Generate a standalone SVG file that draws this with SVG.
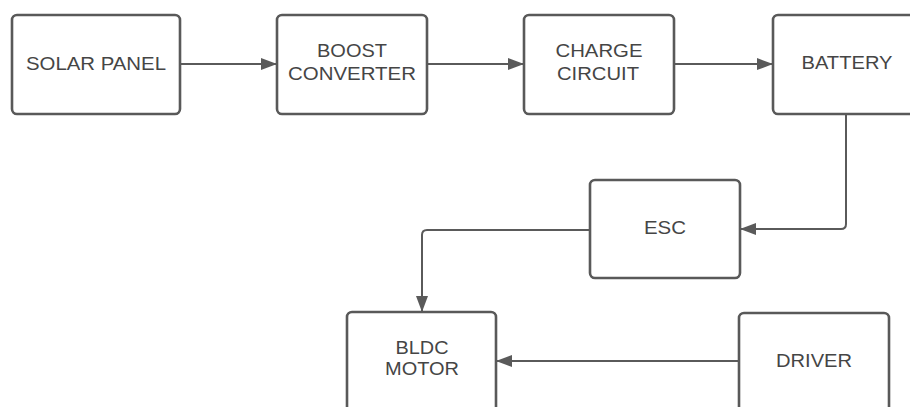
<svg xmlns="http://www.w3.org/2000/svg" width="910" height="407" viewBox="0 0 910 407">
<defs>
<style>
.box{fill:#fff;stroke:#595959;stroke-width:2.6}
.lbl{font-family:"Liberation Sans",Arial,sans-serif;font-size:18px;fill:#454545;text-anchor:middle}
.con{fill:none;stroke:#5a5a5a;stroke-width:2}
</style>
<marker id="ah" viewBox="0 0 16 12" refX="16" refY="6" markerWidth="16" markerHeight="12" markerUnits="userSpaceOnUse" orient="auto">
<path d="M0,0 L16,6 L0,12 Z" fill="#5a5a5a"/>
</marker>
</defs>
<rect width="910" height="407" fill="#fff"/>
<g id="connectors">
<path class="con" d="M180,64 H277" marker-end="url(#ah)"/>
<path class="con" d="M427,64 H524" marker-end="url(#ah)"/>
<path class="con" d="M674,64 H773" marker-end="url(#ah)"/>
<path class="con" d="M846,114 V224 Q846,229 841,229 H740" marker-end="url(#ah)"/>
<path class="con" d="M590,230 H427 Q422,230 422,235 V312" marker-end="url(#ah)"/>
<path class="con" d="M739,361 H496" marker-end="url(#ah)"/>
</g>
<g id="solar-panel">
<rect class="box" x="12" y="15" width="168" height="99" rx="5"/>
<text class="lbl" x="96" y="70" textLength="140" lengthAdjust="spacingAndGlyphs">SOLAR PANEL</text>
</g>
<g id="boost-converter">
<rect class="box" x="277" y="15" width="150" height="99" rx="5"/>
<text class="lbl" x="352" y="57" textLength="70" lengthAdjust="spacingAndGlyphs">BOOST</text>
<text class="lbl" x="352" y="80" textLength="128" lengthAdjust="spacingAndGlyphs">CONVERTER</text>
</g>
<g id="charge-circuit">
<rect class="box" x="524" y="15" width="150" height="99" rx="5"/>
<text class="lbl" x="599" y="57" textLength="87" lengthAdjust="spacingAndGlyphs">CHARGE</text>
<text class="lbl" x="598" y="80" textLength="82" lengthAdjust="spacingAndGlyphs">CIRCUIT</text>
</g>
<g id="battery">
<rect class="box" x="773" y="15" width="150" height="99" rx="5"/>
<text class="lbl" x="847" y="69" textLength="91" lengthAdjust="spacingAndGlyphs">BATTERY</text>
</g>
<g id="esc">
<rect class="box" x="590" y="180" width="150" height="98" rx="5"/>
<text class="lbl" x="665" y="234" textLength="42" lengthAdjust="spacingAndGlyphs">ESC</text>
</g>
<g id="bldc-motor">
<rect class="box" x="347" y="312" width="149" height="100" rx="5"/>
<text class="lbl" x="422" y="354" textLength="53" lengthAdjust="spacingAndGlyphs">BLDC</text>
<text class="lbl" x="422" y="375" textLength="74" lengthAdjust="spacingAndGlyphs">MOTOR</text>
</g>
<g id="driver">
<rect class="box" x="739" y="313" width="150" height="100" rx="5"/>
<text class="lbl" x="814" y="367" textLength="76" lengthAdjust="spacingAndGlyphs">DRIVER</text>
</g>
</svg>
